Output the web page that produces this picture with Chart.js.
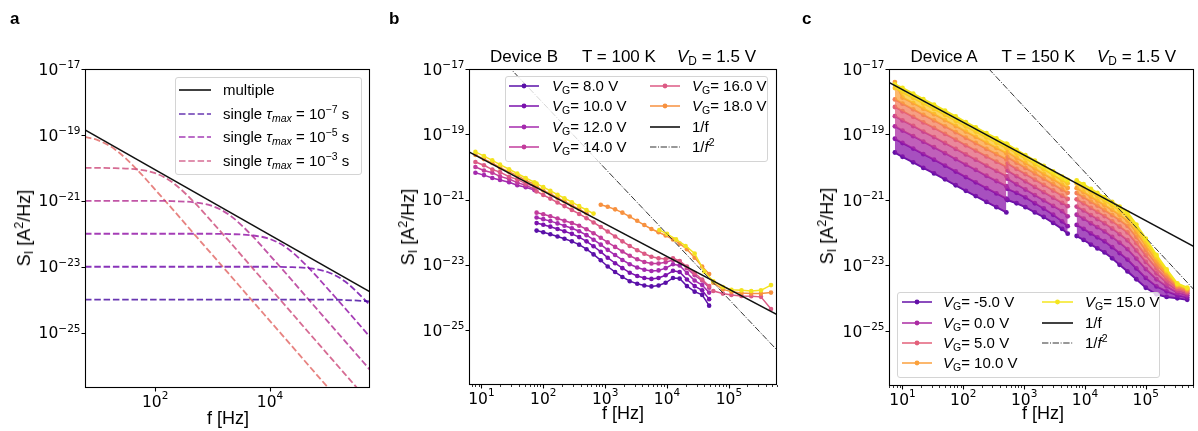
<!DOCTYPE html>
<html>
<head>
<meta charset="utf-8">
<title>Noise spectra</title>
<script src="https://cdn.jsdelivr.net/npm/chart.js@4.4.1/dist/chart.umd.min.js"></script>
<style>
  body { margin: 0; background: #fff; }
  #wrap { position: relative; width: 1198px; height: 431px; overflow: hidden;
          font-family: "Liberation Sans", Arial, Helvetica, sans-serif; color: #000; }
  #wrap canvas { position: absolute; left: 0; top: 0; }
  .t { position: absolute; white-space: nowrap; line-height: 1; }
  .t sub, .t sup { line-height: 0; font-size: 0.7em; }
  .t sub { vertical-align: -0.25em; }
  .t sup { vertical-align: 0.55em; }
  .leg { position: absolute; background: rgba(255,255,255,0.8); border: 1px solid #d4d4d4;
         border-radius: 3px; box-sizing: border-box; }
</style>
</head>
<body>
<div id="wrap">
  <canvas id="chartA" width="1198" height="431"></canvas>
  <canvas id="chartB" width="1198" height="431"></canvas>
  <canvas id="chartC" width="1198" height="431"></canvas>
</div>
<script>
// all spectra are given as log10(S_I / (A^2/Hz))

// ---- panel a: single lorentzians and the 1/f envelope ----
const aFreq = [6, 10, 20, 50, 100, 200, 500, 1e3, 2e3, 5e3, 1e4, 2e4, 5e4, 1e5, 2e5, 5.5e5];
const aTau2 = [-19.06, -19.16, -19.44, -20.08, -20.66, -21.25, -22.05, -22.65, -23.25, -24.05, -24.65, -25.25, -26.05, -26.65, -27.25, -28.13];
const aTau3 = [-20.00, -20.00, -20.01, -20.05, -20.16, -20.44, -21.08, -21.66, -22.25, -23.05, -23.65, -24.25, -25.05, -25.65, -26.25, -27.13];
const aTau4 = [-21.00, -21.00, -21.00, -21.00, -21.00, -21.01, -21.05, -21.16, -21.44, -22.08, -22.66, -23.25, -24.05, -24.65, -25.25, -26.13];
const aTau5 = [-22.00, -22.00, -22.00, -22.00, -22.00, -22.00, -22.00, -22.00, -22.01, -22.05, -22.16, -22.44, -23.08, -23.66, -24.25, -25.13];
const aTau6 = [-23.00, -23.00, -23.00, -23.00, -23.00, -23.00, -23.00, -23.00, -23.00, -23.00, -23.00, -23.01, -23.05, -23.16, -23.44, -24.16];
const aTau7 = [-24.00, -24.00, -24.00, -24.00, -24.00, -24.00, -24.00, -24.00, -24.00, -24.00, -24.00, -24.00, -24.00, -24.00, -24.01, -24.05];
const aMultFreq = [6, 5.5e5];
const aMult = [-18.85, -23.76];

// ---- panel b: device B, 100 K ----
const bFreqLow = [8, 11, 15, 20, 28, 38, 52, 72];
const bFreqMid = [78, 100, 130, 170, 220, 290, 380, 500, 650, 850, 1100, 1450, 1900, 2500, 3300, 4300, 5600, 7300, 9500, 12500, 16000, 21000, 28000, 37000, 48000];
const bFreqHigh = [7500, 10000, 14000, 20000, 28000, 40000, 56000, 80000, 110000, 160000, 230000, 330000, 480000];

const b8Mid = [-21.95, -22.00, -22.06, -22.13, -22.20, -22.28, -22.38, -22.52, -22.68, -22.86, -23.05, -23.22, -23.37, -23.50, -23.58, -23.63, -23.66, -23.63, -23.55, -23.40, -23.42, -23.65, -23.82, -23.92, -24.25];
const b10Mid = [-21.72, -21.77, -21.83, -21.90, -21.97, -22.05, -22.15, -22.28, -22.43, -22.60, -22.78, -22.95, -23.10, -23.24, -23.34, -23.40, -23.43, -23.40, -23.32, -23.18, -23.22, -23.45, -23.65, -23.78, -24.05];
const b12Low = [-20.18, -20.25, -20.34, -20.40, -20.47, -20.56, -20.62, -20.71];
const b12Mid = [-21.55, -21.60, -21.66, -21.73, -21.80, -21.88, -21.97, -22.09, -22.23, -22.38, -22.54, -22.70, -22.85, -22.98, -23.08, -23.15, -23.19, -23.17, -23.10, -22.98, -23.02, -23.25, -23.48, -23.62, -23.85];
const b14Low = [-20.00, -20.11, -20.18, -20.29, -20.37, -20.48, -20.56, -20.68];
const b14Mid = [-21.40, -21.45, -21.51, -21.58, -21.65, -21.72, -21.80, -21.91, -22.03, -22.17, -22.31, -22.45, -22.59, -22.72, -22.83, -22.91, -22.96, -22.96, -22.92, -22.85, -22.90, -23.10, -23.32, -23.48, -23.70];
const b16Low = [-19.85, -19.95, -20.08, -20.16, -20.30, -20.38, -20.51, -20.60];
const b16Mid = [-20.75, -20.86, -20.97, -21.09, -21.20, -21.32, -21.44, -21.57, -21.70, -21.84, -21.98, -22.13, -22.28, -22.42, -22.55, -22.66, -22.75, -22.80, -22.82, -22.80, -22.88, -23.05, -23.25, -23.45, -23.65];
const b16High = [null, null, null, null, null, null, -23.80, -23.88, -23.92, -23.95, -23.96, -23.98, -24.35];
const b18Low = [-19.63, -19.76, -19.88, -20.02, -20.15, -20.26, -20.41, -20.53];
const b18Mid = [-20.60, -20.72, -20.82, -20.95, -21.05, -21.18, -21.29, -21.42, null, -21.16, -21.22, -21.30, -21.40, -21.52, -21.65, -21.78, -21.90, -22.00, -22.10, -22.22, -22.35, -22.52, -22.78, -23.05, -23.28];
const b18High = [null, null, null, null, null, null, -23.55, -23.75, -23.82, -23.86, -23.88, -23.88, -23.85];
const b20Low = [-19.54, -19.67, -19.80, -19.93, -20.07, -20.20, -20.34, -20.47];
const b20Mid = [-20.51, -20.62, -20.73, -20.85, -20.96, -21.08, -21.20, -21.32, -21.43, null, null, null, null, null, null, null, null, null, null, null, null, null, null, null, null];
const b20High = [-21.93, -22.05, -22.22, -22.42, -22.65, -23.20, -23.50, -23.68, -23.76, -23.78, -23.80, -23.78, -23.62];
const bFitFreq = [6.3, 6e5];
const bOneOverF = [-19.54, -24.52];
const bSqFreq = [20, 6e5];
const bOneOverF2 = [-16.65, -25.61];

// ---- panel c: device A, 150 K ----
const cGate = [-5, -2.5, 0, 2.5, 5, 7.5, 10, 12.5, 15];
const cColor = ['#6410a7', '#8a16aa', '#ab2ba3', '#c94390', '#e3607a', '#f37f5a', '#fba13c', '#fbc629', '#f4e61e'];
const cFreqLow = [7.5, 10, 15, 22, 33, 50, 75, 110, 160, 240, 350, 510];
const cFreqMid = [530, 750, 1050, 1500, 2100, 3000, 4200, 5200];
const cFreqHigh = [7300, 9500, 12500, 16000, 21000, 28000, 37000, 50000, 70000, 100000, 150000, 220000, 330000, 480000];
const cLogLow = [
  [-19.55, -19.68, -19.85, -20.02, -20.19, -20.37, -20.55, -20.72, -20.88, -21.06, -21.22, -21.38],
  [-19.13, -19.26, -19.43, -19.60, -19.77, -19.95, -20.13, -20.30, -20.46, -20.64, -20.80, -20.96],
  [-18.75, -18.88, -19.05, -19.22, -19.39, -19.57, -19.75, -19.92, -20.08, -20.26, -20.42, -20.58],
  [-18.44, -18.57, -18.74, -18.91, -19.08, -19.26, -19.44, -19.61, -19.77, -19.95, -20.11, -20.27],
  [-18.16, -18.29, -18.46, -18.63, -18.80, -18.98, -19.16, -19.33, -19.49, -19.67, -19.83, -19.99],
  [-17.93, -18.06, -18.23, -18.40, -18.57, -18.75, -18.93, -19.10, -19.26, -19.44, -19.60, -19.76],
  [-17.40, -17.87, -18.04, -18.21, -18.38, -18.56, -18.74, -18.91, -19.07, -19.25, -19.41, -19.57],
  [-17.58, -17.71, -17.88, -18.05, -18.22, -18.40, -18.58, -18.75, -18.91, -19.09, -19.25, -19.41],
  [-17.47, -17.58, -17.75, -17.92, -18.09, -18.27, -18.45, -18.62, -18.78, -18.96, -19.12, -19.28]
];
const cLogMid = [
  [-21.00, -21.10, -21.22, -21.38, -21.52, -21.70, -21.88, -22.03],
  [-20.66, -20.78, -20.92, -21.10, -21.26, -21.45, -21.65, -21.80],
  [-20.35, -20.52, -20.68, -20.85, -21.01, -21.18, -21.34, -21.50],
  [-20.10, -20.27, -20.43, -20.60, -20.76, -20.93, -21.09, -21.19],
  [-19.88, -20.05, -20.21, -20.38, -20.54, -20.71, -20.87, -20.97],
  [-19.69, -19.86, -20.02, -20.19, -20.35, -20.52, -20.68, -20.78],
  [-19.54, -19.71, -19.87, -20.04, -20.20, -20.37, -20.53, -20.63],
  [-19.40, -19.57, -19.73, -19.90, -20.06, -20.23, -20.39, -20.49],
  [-19.30, -19.47, -19.63, -19.80, -19.96, -20.13, -20.29, -20.39]
];
const cLogHigh = [
  [-22.10, -22.22, -22.36, -22.48, -22.60, -22.78, -22.98, -23.18, -23.42, -23.68, -23.88, -23.96, -24.00, -24.05],
  [-21.76, -21.88, -22.02, -22.14, -22.26, -22.44, -22.62, -22.82, -23.09, -23.38, -23.64, -23.79, -23.91, -23.98],
  [-21.45, -21.57, -21.71, -21.83, -21.96, -22.13, -22.30, -22.50, -22.79, -23.11, -23.42, -23.64, -23.83, -23.91],
  [-21.20, -21.32, -21.46, -21.58, -21.71, -21.87, -22.04, -22.23, -22.54, -22.89, -23.24, -23.52, -23.76, -23.85],
  [-20.98, -21.10, -21.24, -21.36, -21.49, -21.65, -21.81, -21.99, -22.32, -22.69, -23.09, -23.41, -23.70, -23.81],
  [-20.79, -20.91, -21.05, -21.17, -21.31, -21.46, -21.61, -21.79, -22.13, -22.53, -22.96, -23.31, -23.65, -23.77],
  [-20.64, -20.76, -20.90, -21.02, -21.16, -21.30, -21.45, -21.63, -21.98, -22.39, -22.85, -23.24, -23.61, -23.73],
  [-20.50, -20.62, -20.76, -20.88, -21.02, -21.16, -21.31, -21.49, -21.85, -22.27, -22.75, -23.17, -23.58, -23.70],
  [-20.40, -20.52, -20.66, -20.78, -20.92, -21.06, -21.20, -21.38, -21.75, -22.18, -22.68, -23.12, -23.55, -23.68]
];
const cFitFreq = [6, 6.2e5];
const cOneOverF = [-17.41, -22.42];
const cSqFreq = [150, 6.2e5];
const cOneOverF2 = [-16.51, -23.74];

const Y_EXPS = [-17, -19, -21, -23, -25];
const Y_MIN = Math.pow(10, -26.68), Y_MAX = 1e-17;
const DASHDOT = [6.4, 1.6, 1, 1.6];

const wrap = document.getElementById('wrap');

function toPoints(freqs, logs) {
  return freqs.map((f, i) => ({ x: f, y: logs[i] === null ? null : Math.pow(10, logs[i]) }));
}

// several measurement windows of one curve, not joined to each other
function windows(...parts) {
  let out = [];
  parts.forEach(([f, l], i) => {
    if (i > 0) out.push({ x: f[0], y: null });
    out = out.concat(toPoints(f, l));
  });
  return out;
}

function hexA(hex, a) {
  const n = parseInt(hex.slice(1), 16);
  return 'rgba(' + (n >> 16) + ',' + ((n >> 8) & 255) + ',' + (n & 255) + ',' + a + ')';
}

function dataLine(data, color) {
  return { data, borderColor: color, backgroundColor: color, borderWidth: 1.5,
           pointRadius: 2.3, pointBorderWidth: 0, pointBackgroundColor: color };
}

function refLine(data, dash) {
  return { data, borderColor: dash ? '#333' : '#111', borderWidth: dash ? 1 : 1.5,
           borderDash: dash ? DASHDOT : [], pointRadius: 0, fill: false };
}

function decor(xExps, minor) {
  return {
    id: 'decor',
    afterDraw(chart) {
      const { ctx, chartArea: a, scales: { x, y } } = chart;
      ctx.save();
      ctx.strokeStyle = '#000';
      ctx.lineWidth = 1.1;
      ctx.strokeRect(a.left + 0.5, a.top + 0.5, a.right - a.left - 1, a.bottom - a.top - 1);
      ctx.beginPath();
      Y_EXPS.forEach(e => {
        const py = Math.round(y.getPixelForValue(Math.pow(10, e))) + 0.5;
        ctx.moveTo(a.left - 3.5, py); ctx.lineTo(a.left, py);
      });
      xExps.forEach(e => {
        const px = Math.round(x.getPixelForValue(Math.pow(10, e))) + 0.5;
        ctx.moveTo(px, a.bottom); ctx.lineTo(px, a.bottom + 3.5);
      });
      ctx.stroke();
      if (minor) {
        ctx.lineWidth = 0.8;
        ctx.beginPath();
        for (let d = 0; d <= 5; d++) {
          for (let m = 2; m <= 9; m++) {
            const v = m * Math.pow(10, d);
            if (v < x.min || v > x.max) continue;
            const px = Math.round(x.getPixelForValue(v)) + 0.5;
            ctx.moveTo(px, a.bottom); ctx.lineTo(px, a.bottom + 2);
          }
        }
        ctx.stroke();
      }
      // tick labels as 10^n
      ctx.fillStyle = '#000';
      ctx.textAlign = 'left';
      Y_EXPS.forEach(e => {
        const py = y.getPixelForValue(Math.pow(10, e));
        const ex = '\u2212' + Math.abs(e);
        ctx.font = '10.5px "DejaVu Sans"';
        const we = ctx.measureText(ex).width;
        ctx.font = '15.5px "DejaVu Sans"';
        const wb = ctx.measureText('10').width;
        const right = a.left - 4.5;
        ctx.fillText('10', right - we - wb, py + 5.6);
        ctx.font = '10.5px "DejaVu Sans"';
        ctx.fillText(ex, right - we, py - 1);
      });
      xExps.forEach(e => {
        const px = x.getPixelForValue(Math.pow(10, e));
        const ex = String(e);
        ctx.font = '10.5px "DejaVu Sans"';
        const we = ctx.measureText(ex).width;
        ctx.font = '15.5px "DejaVu Sans"';
        const wb = ctx.measureText('10').width;
        const left = px - (we + wb) / 2;
        ctx.fillText('10', left, a.bottom + 18.7);
        ctx.font = '10.5px "DejaVu Sans"';
        ctx.fillText(ex, left + wb, a.bottom + 11);
      });
      ctx.restore();
    }
  };
}

function makeChart(id, area, xMin, xMax, datasets, xExps, minor) {
  // later entries are drawn on top, as in the original plot
  datasets.forEach((d, i) => { d.order = datasets.length - i; });
  return new Chart(document.getElementById(id), {
    type: 'line',
    data: { datasets },
    options: {
      responsive: false, animation: false, devicePixelRatio: 1, events: [],
      layout: { padding: { left: area[0], top: area[1], right: 1198 - area[2], bottom: 431 - area[3] } },
      plugins: { legend: { display: false }, tooltip: { enabled: false } },
      elements: { line: { tension: 0 } },
      scales: {
        x: { type: 'logarithmic', display: false, min: xMin, max: xMax },
        y: { type: 'logarithmic', display: false, min: Y_MIN, max: Y_MAX }
      }
    },
    plugins: [decor(xExps, minor)]
  });
}

// ---------- panel a ----------
const aColors = ['rgba(225,100,98,0.8)', 'rgba(204,71,120,0.8)', 'rgba(177,42,144,0.8)',
                 'rgba(143,13,164,0.8)', 'rgba(106,0,168,0.8)', 'rgba(65,4,157,0.8)'];
const aSets = [aTau2, aTau3, aTau4, aTau5, aTau6, aTau7].map((v, i) => ({
  data: toPoints(aFreq, v), borderColor: aColors[i], borderWidth: 1.8, borderDash: [6.5, 2.8],
  pointRadius: 0, cubicInterpolationMode: 'monotone'
}));
aSets.push(refLine(toPoints(aMultFreq, aMult), false));
makeChart('chartA', [85, 69, 370, 388], 6, 5.5e5, aSets, [2, 4], false);

// ---------- panel b ----------
const bColors = { 8: '#5a10a8', 10: '#7b12ad', 12: '#a42aae', 14: '#c23c9c', 16: '#dc5a85', 18: '#f7913f', 20: '#f3e31f' };
const bSets = [
  dataLine(windows([bFreqMid, b8Mid]), bColors[8]),
  dataLine(windows([bFreqMid, b10Mid]), bColors[10]),
  dataLine(windows([bFreqLow, b12Low], [bFreqMid, b12Mid]), bColors[12]),
  dataLine(windows([bFreqLow, b14Low], [bFreqMid, b14Mid]), bColors[14]),
  dataLine(windows([bFreqLow, b16Low], [bFreqMid, b16Mid], [bFreqHigh, b16High]), bColors[16]),
  dataLine(windows([bFreqLow, b18Low], [bFreqMid, b18Mid], [bFreqHigh, b18High]), bColors[18]),
  dataLine(windows([bFreqLow, b20Low], [bFreqMid, b20Mid], [bFreqHigh, b20High]), bColors[20]),
  refLine(toPoints(bFitFreq, bOneOverF), false),
  refLine(toPoints(bSqFreq, bOneOverF2), true)
];
makeChart('chartB', [469, 69, 777, 385], 6.3, 6e5, bSets, [1, 2, 3, 4, 5], true);

// ---------- panel c ----------
// the gate sweep is so dense that neighbouring curves merge into a band
const cSets = cGate.map((vg, i) => {
  const s = dataLine(windows([cFreqLow, cLogLow[i]], [cFreqMid, cLogMid[i]], [cFreqHigh, cLogHigh[i]]), cColor[i]);
  s.borderWidth = 2;
  s.pointRadius = 2.4;
  if (i > 0) {
    s.fill = '-1';
    s.backgroundColor = hexA(cColor[i], 0.75);
  }
  return s;
});
cSets.push(refLine(toPoints(cFitFreq, cOneOverF), false));
cSets.push(refLine(toPoints(cSqFreq, cOneOverF2), true));
makeChart('chartC', [889, 69, 1197, 386], 6, 6.2e5, cSets, [1, 2, 3, 4, 5], true);

// ---------- text ----------
function put(html, x, base, size, extra) {
  const d = document.createElement('div');
  d.className = 't';
  d.innerHTML = html;
  d.style.left = x + 'px';
  d.style.top = (base - 0.85 * size) + 'px';
  d.style.fontSize = size + 'px';
  if (extra) Object.assign(d.style, extra);
  wrap.appendChild(d);
  return d;
}
function putCentered(html, cx, base, size) {
  return put(html, cx, base, size, { transform: 'translateX(-50%)' });
}
function putRotated(html, cx, cy, size) {
  const d = put(html, cx, cy, size, { transform: 'translate(-50%,-50%) rotate(-90deg)' });
  d.style.top = cy + 'px';
  return d;
}
function legendBox(l, t, r, b) {
  const d = document.createElement('div');
  d.className = 'leg';
  Object.assign(d.style, { left: l + 'px', top: t + 'px', width: (r - l) + 'px', height: (b - t) + 'px' });
  wrap.appendChild(d);
}
function handle(x, cy, w, color, dash, dot) {
  const ns = 'http://www.w3.org/2000/svg';
  const s = document.createElementNS(ns, 'svg');
  s.setAttribute('width', w);
  s.setAttribute('height', 10);
  s.style.cssText = 'position:absolute;left:' + x + 'px;top:' + (cy - 5) + 'px';
  const l = document.createElementNS(ns, 'line');
  l.setAttribute('x1', 0); l.setAttribute('x2', w);
  l.setAttribute('y1', 5); l.setAttribute('y2', 5);
  l.setAttribute('stroke', color);
  l.setAttribute('stroke-width', dot ? 1.5 : (dash === 'dd' ? 1.2 : 1.6));
  if (dash === 'dash') l.setAttribute('stroke-dasharray', '6.5 2.8');
  if (dash === 'dd') l.setAttribute('stroke-dasharray', DASHDOT.join(' '));
  s.appendChild(l);
  if (dot) {
    const c = document.createElementNS(ns, 'circle');
    c.setAttribute('cx', w / 2); c.setAttribute('cy', 5); c.setAttribute('r', 2.4);
    c.setAttribute('fill', color);
    s.appendChild(c);
  }
  wrap.appendChild(s);
}

put('<b>a</b>', 10, 24, 17);
put('<b>b</b>', 389, 24, 17);
put('<b>c</b>', 802, 24, 17);

const yLab = 'S<sub>I</sub> [A<sup>2</sup>/Hz]';
putRotated(yLab, 24, 228, 18);
putRotated(yLab, 408, 227, 18);
putRotated(yLab, 827, 226, 18);
putCentered('f [Hz]', 228, 424.5, 18);
putCentered('f [Hz]', 623, 419.5, 18);
putCentered('f [Hz]', 1043, 419.5, 18);

put('Device B', 490, 62.5, 17);
put('T = 100 K', 582, 62.5, 17);
put('<i>V</i><sub>D</sub> = 1.5 V', 677, 62.5, 17);
put('Device A', 910.5, 62.5, 17);
put('T = 150 K', 1001.5, 62.5, 17);
put('<i>V</i><sub>D</sub> = 1.5 V', 1097, 62.5, 17);

// legend a
legendBox(175, 77, 362, 175);
handle(179, 90, 32, '#111', null, false);
put('multiple', 223, 95, 15);
[['\u22127', aColors[5], 114], ['\u22125', aColors[3], 137], ['\u22123', aColors[1], 161]].forEach(([ex, col, cy]) => {
  handle(179, cy, 32, col, 'dash', false);
  put('single <i>\u03c4<sub>max</sub></i> = 10<sup>' + ex + '</sup> s', 223, cy + 5, 15);
});

// legend b
legendBox(505, 76, 768, 162);
const bRows = [86, 106, 127, 147];
[8, 10, 12, 14].forEach((vg, i) => {
  handle(509, bRows[i], 30, bColors[vg], null, true);
  put('<i>V</i><sub>G</sub>= ' + vg.toFixed(1) + ' V', 552, bRows[i] + 5, 15);
});
[16, 18].forEach((vg, i) => {
  handle(650, bRows[i], 30, bColors[vg], null, true);
  put('<i>V</i><sub>G</sub>= ' + vg.toFixed(1) + ' V', 692, bRows[i] + 5, 15);
});
handle(650, bRows[2], 30, '#111', null, false);
put('1/f', 692, bRows[2] + 5, 15);
handle(650, bRows[3], 30, '#333', 'dd', false);
put('1/<i>f</i><sup>2</sup>', 692, bRows[3] + 5, 15);

// legend c
legendBox(897, 292, 1160, 378);
const cRows = [302, 323, 343, 363];
[0, 2, 4, 6].forEach((gi, i) => {
  handle(902, cRows[i], 30, cColor[gi], null, true);
  put('<i>V</i><sub>G</sub>= ' + cGate[gi].toFixed(1) + ' V', 943, cRows[i] + 5, 15);
});
handle(1042, cRows[0], 31, cColor[8], null, true);
put('<i>V</i><sub>G</sub>= ' + cGate[8].toFixed(1) + ' V', 1085, cRows[0] + 5, 15);
handle(1042, cRows[1], 31, '#111', null, false);
put('1/f', 1085, cRows[1] + 5, 15);
handle(1042, cRows[2], 31, '#333', 'dd', false);
put('1/<i>f</i><sup>2</sup>', 1085, cRows[2] + 5, 15);
</script>
</body>
</html>
